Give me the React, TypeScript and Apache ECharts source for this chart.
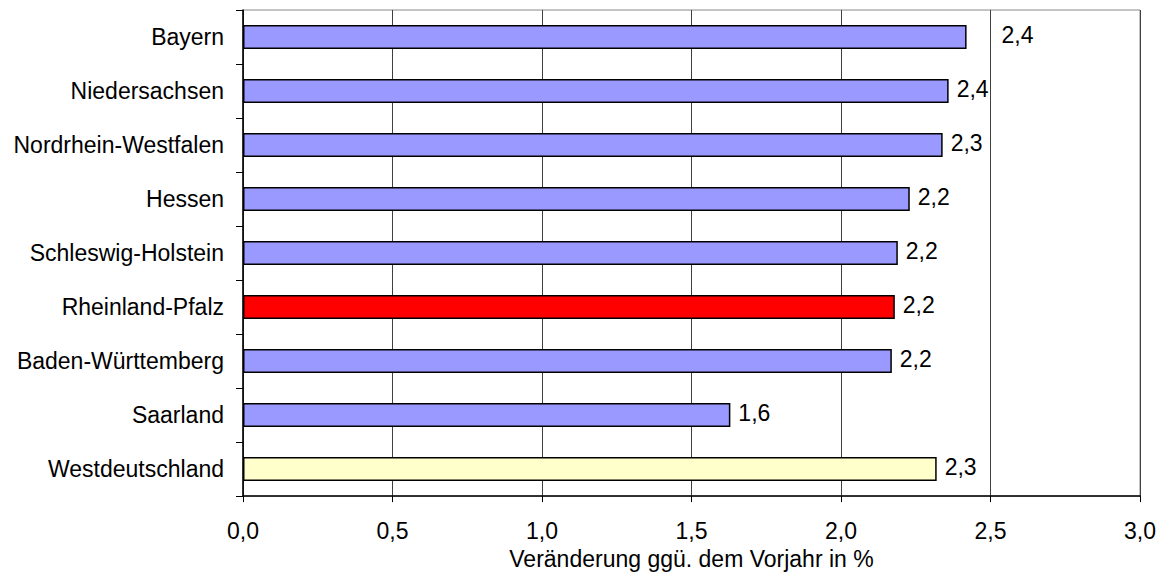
import React, { useEffect, useRef } from "react";
import * as echarts from "echarts";

const categories = [
  "Bayern",
  "Niedersachsen",
  "Nordrhein-Westfalen",
  "Hessen",
  "Schleswig-Holstein",
  "Rheinland-Pfalz",
  "Baden-Württemberg",
  "Saarland",
  "Westdeutschland",
];
const values = [2.42, 2.36, 2.34, 2.23, 2.19, 2.18, 2.17, 1.63, 2.32];
const barColors = [
  "#9999FF",
  "#9999FF",
  "#9999FF",
  "#9999FF",
  "#9999FF",
  "#FF0000",
  "#9999FF",
  "#9999FF",
  "#FFFFCC",
];
const xTicks = { min: 0, max: 3, interval: 0.5 };
const axisTitle = "Veränderung ggü. dem Vorjahr in %";

const FONT = "Arial, 'Liberation Sans', sans-serif";
const FS = 23;
const fmt = (v: number) => v.toFixed(1).replace(".", ",");

export default function App() {
  const ref = useRef<HTMLDivElement>(null);
  useEffect(() => {
    if (!ref.current) return;
    const chart = echarts.init(ref.current, undefined, { renderer: "svg" });
    const data = values.map((v, i) => ({
      value: v,
      itemStyle: { color: barColors[i] },
      label: i === 0 ? { offset: [27, -2] } : { offset: [0, -2] },
    }));
    chart.setOption({
      animation: false,
      backgroundColor: "#ffffff",
      textStyle: { fontFamily: FONT },
      grid: {
        left: 243,
        right: 25,
        top: 10,
        bottom: 73,
        show: true,
        borderColor: "#888888",
        borderWidth: 1,
      },
      xAxis: {
        type: "value",
        min: xTicks.min,
        max: xTicks.max,
        interval: xTicks.interval,
        name: axisTitle,
        nameLocation: "middle",
        nameGap: 50,
        nameTextStyle: { fontSize: FS, color: "#000", fontFamily: FONT },
        axisLine: { show: true, lineStyle: { color: "#000", width: 1.5 } },
        axisTick: { show: true, length: 6, lineStyle: { color: "#000" } },
        axisLabel: {
          fontSize: FS,
          color: "#000",
          margin: 23,
          fontFamily: FONT,
          formatter: (v: number) => fmt(v),
        },
        splitLine: { show: true, lineStyle: { color: "#404040", width: 1 } },
      },
      yAxis: {
        type: "category",
        data: categories,
        inverse: true,
        axisLine: { show: true, lineStyle: { color: "#000", width: 1.5 } },
        axisTick: { show: true, length: 7, lineStyle: { color: "#000" } },
        axisLabel: { fontSize: FS, color: "#000", margin: 19, fontFamily: FONT },
        splitLine: { show: false },
      },
      series: [
        {
          type: "bar",
          data,
          barWidth: 24,
          itemStyle: { borderColor: "#000", borderWidth: 1.5 },
          label: {
            show: true,
            position: "right",
            distance: 8,
            fontSize: FS,
            color: "#000",
            fontFamily: FONT,
            formatter: (p: any) => fmt(p.value),
          },
        },
      ],
    });
    return () => chart.dispose();
  }, []);
  return (
    <div
      ref={ref}
      style={{ position: "fixed", left: 0, top: 0, width: 1165, height: 575 }}
    />
  );
}
